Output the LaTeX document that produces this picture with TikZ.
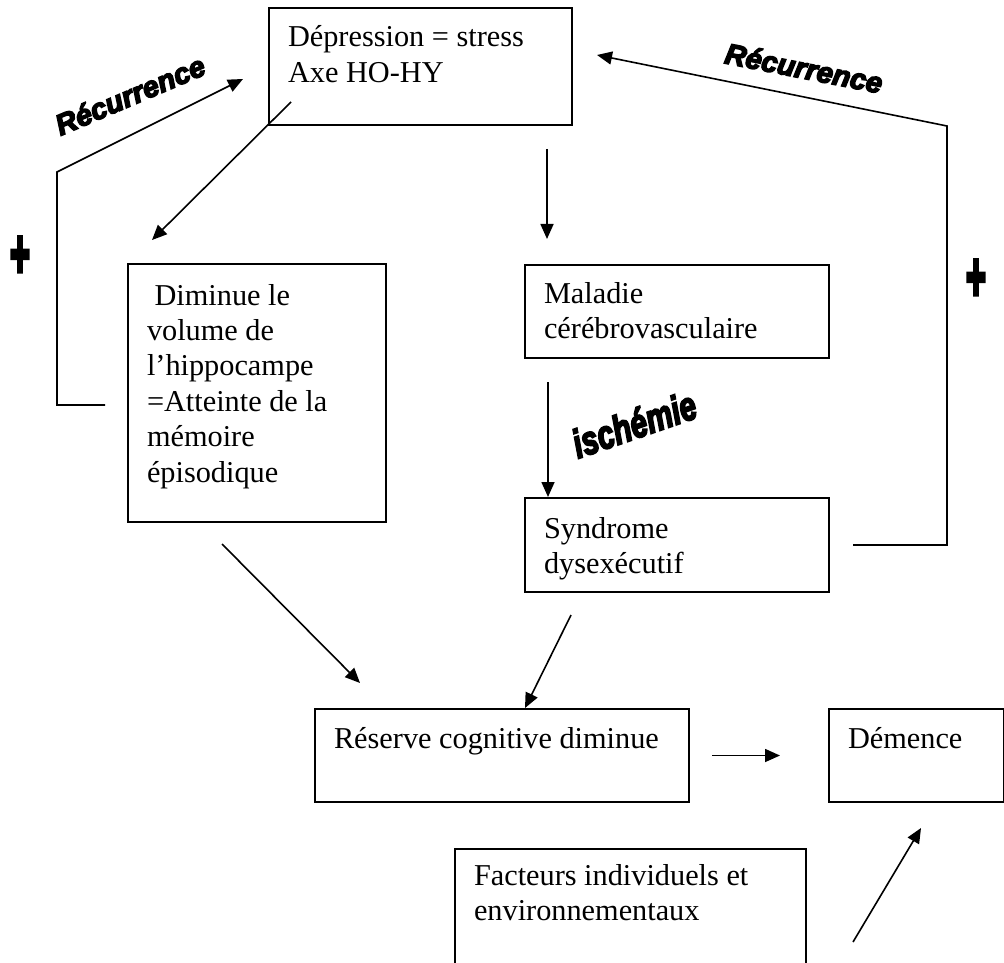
\documentclass[tikz,border=0pt]{standalone}
\usepackage{fontspec}
\setmainfont{Liberation Serif}
\newfontfamily\artfont[BoldFeatures={FakeBold=5},BoldItalicFeatures={FakeBold=5}]{Liberation Sans}
\newfontfamily\plusfont[BoldFeatures={FakeBold=6}]{Liberation Sans}
\usetikzlibrary{arrows.meta,calc,positioning}

\begin{document}
\begin{tikzpicture}[x=0.5pt,y=-0.5pt,
    box/.style={draw,line width=1pt,anchor=north west,align=flush left,
        inner xsep=9.5pt,inner ysep=0pt,
        font=\fontsize{15.15pt}{17.7pt}\selectfont},
    arr/.style={-{Triangle[length=7.5pt,width=6.5pt]},line width=0.8pt},
    wordart/.style={font=\artfont\bfseries\itshape\fontsize{14.5pt}{14.5pt}\selectfont},
    plussign/.style={font=\plusfont\bfseries\fontsize{17pt}{17pt}\selectfont,yscale=2}]

    \useasboundingbox (0,0) rectangle (1004,962);
    \clip (0,0) rectangle (1004,962);

    % boxes
    \node[box,text width=132.5pt,text height=19.5pt,text depth=39pt] (dep) at (268,7)
        {Dépression = stress\\Axe HO-HY};
    \node[box,text width=110pt,text height=20.5pt,text depth=108.5pt] (dim) at (127,263)
        {~Diminue le\\volume de\\l’hippocampe\\=Atteinte de la\\mémoire\\épisodique};
    \node[box,text width=133pt,text height=19pt,text depth=27.5pt] (mal) at (524,264)
        {Maladie\\cérébrovasculaire};
    \node[box,text width=133pt,text height=20pt,text depth=27pt] (syn) at (524,497)
        {Syndrome\\dysexécutif};
    \node[box,text width=168pt,text height=19.5pt,text depth=27pt] (res) at (314,708)
        {Réserve cognitive diminue};
    \node[box,text width=68.5pt,text height=19.5pt,text depth=27pt] (dem) at (828,708)
        {Démence};
    \node[box,text width=156.5pt,text height=18pt,text depth=57pt] (fac) at (454,848)
        {Facteurs individuels et\\environnementaux};

    % arrows
    \draw[arr] ($(dep.south west)+(23,-24)$) -- ($(dim.north west)+(25,-23)$);
    \draw[arr] ($(mal.north west |- dep.south)+(23,23)$) -- ($(mal.north west)+(23,-25)$);
    \draw[arr] ($(mal.south west)+(24,23)$) -- ($(syn.north west)+(24,0)$);
    \draw[arr] ($(dim.south west)+(95,21)$) -- ($(res.north west)+(46,-25)$);
    \draw[arr] ($(syn.south west)+(47,22)$) -- ($(res.north west)+(211,0)$);
    \draw[arr] ($(res.east)+(22,0)$) -- ($(dem.west)+(-48,0)$);
    \draw[arr] ($(fac.north east)+(46,94)$) -- ($(dem.south west)+(93,25)$);

    % feedback loops
    \coordinate (ltop) at ($(dep.south west)+(-211,46)$);
    \coordinate (rtop) at ($(dep.south east)+(374,0)$);
    \draw[arr] ($(dim.west)+(-22,12)$) -| (ltop) -- ($(dep.north west)+(-25,72)$);
    \draw[arr] ($(syn.east)+(23,0)$) -| (rtop) -- ($(dep.north east)+(24,48)$);

    % labels
    \node[wordart,rotate=23] (recl) at (130,95) {Récurrence};
    \node[wordart,rotate=-11] (recr) at (804,68) {Récurrence};
    \node[wordart,font=\artfont\bfseries\itshape\fontsize{20pt}{20pt}\selectfont,
        rotate=19,xscale=0.75] (isch) at (634,424) {ischémie};
    \node[plussign] (plusl) at (20,257) {+};
    \node[plussign] (plusr) at (976,280) {+};
\end{tikzpicture}
\end{document}
